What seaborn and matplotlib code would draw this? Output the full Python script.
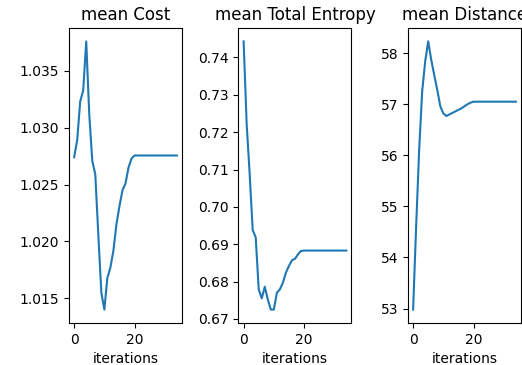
import matplotlib
matplotlib.use("Agg")
import matplotlib.pyplot as plt
import seaborn as sns
import pandas as pd

iterations = list(range(35))

mean_cost = [1.0274, 1.0289, 1.0323, 1.0333, 1.0376, 1.0312, 1.0271, 1.0259, 1.0206,
             1.0155, 1.0140, 1.0168, 1.0177, 1.0192, 1.0215, 1.0231, 1.0245, 1.0251,
             1.0265, 1.0273] + [1.02756] * 15

mean_entropy = [0.7443, 0.7223, 0.7088, 0.6938, 0.6918, 0.6779, 0.6755, 0.6786, 0.6752,
                0.6725, 0.6725, 0.6770, 0.6779, 0.6797, 0.6824, 0.6842, 0.6857, 0.6861,
                0.6873, 0.6882] + [0.6883] * 15

mean_distance = [52.98, 54.60, 56.10, 57.25, 57.84, 58.23, 57.87, 57.57, 57.28, 56.96,
                 56.82, 56.77, 56.80, 56.83, 56.86, 56.89, 56.92, 56.96, 57.00, 57.03] + [57.05] * 15

titles = ["mean Cost", "mean Total Entropy", "mean Distance"]
series = [mean_cost, mean_entropy, mean_distance]

fig, axes = plt.subplots(1, 3, figsize=(5.22, 3.65), dpi=100)
fig.subplots_adjust(left=0.1322, right=0.998, bottom=0.1151, top=0.9233, wspace=0.5)

for ax, title, values in zip(axes, titles, series):
    df = pd.DataFrame({"iterations": iterations, "value": values})
    sns.lineplot(data=df, x="iterations", y="value", ax=ax, color="#1f77b4", linewidth=1.5)
    ax.set_title(title)
    ax.set_xlabel("iterations")
    ax.set_ylabel("")
    ax.set_xticks([0, 20])

fig.savefig("out.png", dpi=100)
